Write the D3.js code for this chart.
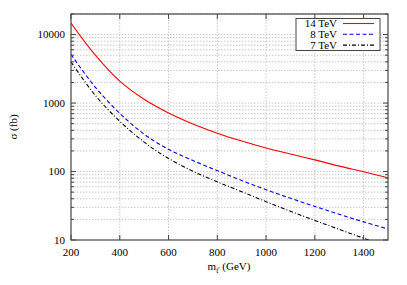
<!DOCTYPE html>
<html>
<head>
<meta charset="utf-8">
<script src="https://cdn.jsdelivr.net/npm/d3@7"></script>
<style>
  body { margin: 0; background: #fff; }
  text { font-family: "Liberation Serif", "DejaVu Serif", serif; fill: #000; }
</style>
</head>
<body>
<svg id="chart"></svg>
<script>
const width = 407;
const height = 285;

// data (sigma in fb)
const masses = [200, 300, 400, 500, 600, 700, 800, 900, 1000, 1100, 1200, 1300, 1400, 1500];
const sigma14 = [14800, 5010, 2090, 1135, 716, 495, 363, 279, 221, 180, 148, 120, 99, 81];
const sigma8 = [5130, 1700, 708, 351, 211, 145, 103, 74, 54.3, 40.7, 30.9, 23.7, 18.4, 14.5];
const sigma7 = [3980, 1290, 543, 269, 155, 101, 70.8, 50.7, 36.3, 26.3, 19.3, 14.3, 10.6, 7.9];

const seriesNames = ["14 TeV", "8 TeV", "7 TeV"];
const xTicks = [200, 400, 600, 800, 1000, 1200, 1400];
const yMajor = [10, 100, 1000, 10000];

const margin = {top: 14, right: 19, bottom: 45, left: 71};

const svg = d3.select("#chart")
    .attr("width", width)
    .attr("height", height);

const x = d3.scaleLinear()
    .domain([200, 1500])
    .range([margin.left, width - margin.right]);

const y = d3.scaleLog()
    .domain([10, 20000])
    .range([height - margin.bottom, margin.top]);

// minor positions on the log axis
const yMinor = [];
[10, 100, 1000, 10000].forEach(d => {
    for (let k = 2; k <= 9; k++) {
        if (d * k <= 20000) yMinor.push(d * k);
    }
});

// grid
const grid = svg.append("g")
    .attr("stroke", "#bbb")
    .attr("stroke-width", 0.8)
    .attr("stroke-dasharray", "1.5,1.5");

grid.selectAll(".gx")
    .data(xTicks.slice(1))
    .join("line")
    .attr("x1", d => x(d)).attr("x2", d => x(d))
    .attr("y1", y(10)).attr("y2", y(20000));

grid.selectAll(".gy")
    .data(yMajor.slice(1).concat(yMinor))
    .join("line")
    .attr("x1", x(200)).attr("x2", x(1500))
    .attr("y1", d => y(d)).attr("y2", d => y(d));

// curves
const lineGen = d3.line()
    .x((d, i) => x(masses[i]))
    .y(d => y(d))
    .curve(d3.curveCatmullRom);

svg.append("clipPath").attr("id", "clip")
  .append("rect")
    .attr("x", x(200)).attr("y", y(20000))
    .attr("width", x(1500) - x(200))
    .attr("height", y(10) - y(20000));

const styles = [
    {color: "#ff0000", dash: null},
    {color: "#0000ff", dash: "4,2.5"},
    {color: "#000000", dash: "4,2,1,2"}
];

const curves = svg.append("g").attr("clip-path", "url(#clip)");
[sigma14, sigma8, sigma7].forEach((s, i) => {
    curves.append("path")
        .datum(s)
        .attr("fill", "none")
        .attr("stroke", styles[i].color)
        .attr("stroke-width", 1.1)
        .attr("stroke-dasharray", styles[i].dash)
        .attr("d", lineGen);
});

// frame and ticks
const axisColor = "#444";
svg.append("rect")
    .attr("x", x(200)).attr("y", y(20000))
    .attr("width", x(1500) - x(200))
    .attr("height", y(10) - y(20000))
    .attr("fill", "none")
    .attr("stroke", axisColor)
    .attr("stroke-width", 1.2);

const ticks = svg.append("g").attr("stroke", axisColor).attr("stroke-width", 1);

// x ticks bottom & top
ticks.selectAll(".xb")
    .data(xTicks)
    .join("line")
    .attr("x1", d => x(d)).attr("x2", d => x(d))
    .attr("y1", y(10)).attr("y2", y(10) - 5);
ticks.selectAll(".xt")
    .data(xTicks)
    .join("line")
    .attr("x1", d => x(d)).attr("x2", d => x(d))
    .attr("y1", y(20000)).attr("y2", y(20000) + 5);

// y ticks left & right
[[x(200), 1], [x(1500), -1]].forEach(([x0, dir]) => {
    ticks.append("g").selectAll("line")
        .data(yMajor)
        .join("line")
        .attr("x1", x0).attr("x2", x0 + dir * 5)
        .attr("y1", d => y(d)).attr("y2", d => y(d));
    ticks.append("g").selectAll("line")
        .data(yMinor)
        .join("line")
        .attr("x1", x0).attr("x2", x0 + dir * 3)
        .attr("y1", d => y(d)).attr("y2", d => y(d));
});

// tick labels
svg.append("g").selectAll("text")
    .data(xTicks)
    .join("text")
    .attr("x", d => x(d))
    .attr("y", y(10) + 16)
    .attr("text-anchor", "middle")
    .attr("font-size", 11)
    .text(d => d);

svg.append("g").selectAll("text")
    .data(yMajor)
    .join("text")
    .attr("x", x(200) - 6)
    .attr("y", d => y(d) + 3.5)
    .attr("text-anchor", "end")
    .attr("font-size", 11)
    .text(d => d);

// axis titles
const xt = svg.append("text")
    .attr("x", 229)
    .attr("y", 270)
    .attr("text-anchor", "middle")
    .attr("font-size", 11);
xt.append("tspan").text("m");
xt.append("tspan").attr("font-size", 7.5).attr("dy", 2.5).text("t'");
xt.append("tspan").attr("dy", -2.5).text(" (GeV)");

svg.append("text")
    .attr("transform", "translate(17," + (margin.top + (height - margin.bottom - margin.top) / 2) + ") rotate(-90)")
    .attr("text-anchor", "middle")
    .attr("font-size", 11)
    .text("σ (fb)");

// legend
const legend = svg.append("g");
legend.append("rect")
    .attr("x", 296).attr("y", 18.5)
    .attr("width", 84).attr("height", 32)
    .attr("fill", "#fff")
    .attr("stroke", axisColor)
    .attr("stroke-width", 1);

seriesNames.forEach((name, i) => {
    const ly = 23.5 + i * 10.8;
    legend.append("text")
        .attr("x", 337)
        .attr("y", ly + 3.8)
        .attr("text-anchor", "end")
        .attr("font-size", 11)
        .text(name);
    legend.append("line")
        .attr("x1", 343).attr("x2", 374)
        .attr("y1", ly).attr("y2", ly)
        .attr("stroke", styles[i].color)
        .attr("stroke-width", 1.1)
        .attr("stroke-dasharray", styles[i].dash);
});
</script>
</body>
</html>
